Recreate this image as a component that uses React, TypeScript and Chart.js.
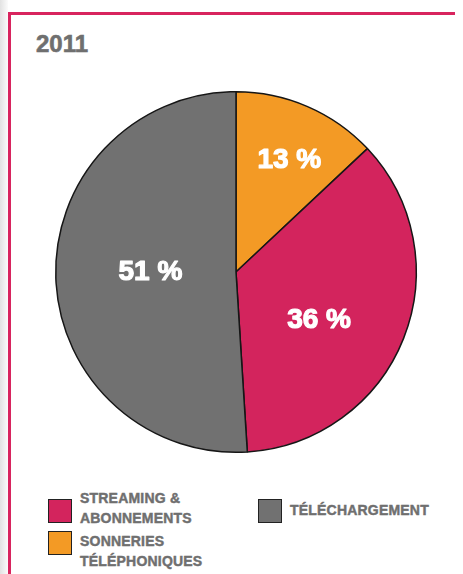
import React, { useEffect, useRef } from "react";
import { Chart, registerables } from "chart.js";

Chart.register(...registerables);

const categories = ["SONNERIES TÉLÉPHONIQUES", "STREAMING & ABONNEMENTS", "TÉLÉCHARGEMENT"];
const values = [13, 36, 51];
const valueLabels = ["13 %", "36 %", "51 %"];
const colors = ["#F39A25", "#D3245D", "#717171"];
const title = "2011";

const FONT = '"Liberation Sans", Arial, sans-serif';
const TEXT_GRAY = "#6f6f6f";
const PINK_FRAME = "#D8245E";

const labelPlugin = {
  id: "sliceLabels",
  afterDatasetsDraw(chart: any, _args: any, opts: any) {
    const ctx = chart.ctx;
    const meta = chart.getDatasetMeta(0);
    ctx.save();
    ctx.fillStyle = "#ffffff";
    ctx.strokeStyle = "#ffffff";
    ctx.lineWidth = 1.2;
    ctx.lineJoin = "round";
    ctx.font = `bold 28px ${FONT}`;
    ctx.textAlign = "center";
    ctx.textBaseline = "middle";
    meta.data.forEach((arc: any, i: number) => {
      const p = arc.getProps(["x", "y", "startAngle", "endAngle", "outerRadius"], true);
      const adj = (opts.adjust && opts.adjust[i]) || { r: 0.6, a: 0 };
      const mid = (p.startAngle + p.endAngle) / 2 + (adj.a * Math.PI) / 180;
      const r = p.outerRadius * adj.r;
      const x = p.x + Math.cos(mid) * r;
      const y = p.y + Math.sin(mid) * r + 1;
      ctx.strokeText(valueLabels[i], x, y);
      ctx.fillText(valueLabels[i], x, y);
    });
    ctx.restore();
  },
};

function PieChart() {
  const ref = useRef<HTMLCanvasElement | null>(null);
  useEffect(() => {
    if (!ref.current) return;
    const chart = new Chart(ref.current, {
      type: "pie",
      data: {
        labels: categories,
        datasets: [
          {
            data: values,
            backgroundColor: colors,
            borderColor: "#161616",
            borderWidth: 1.5,
          },
        ],
      },
      options: {
        responsive: false,
        animation: false,
        events: [],
        layout: { padding: 9 },
        plugins: {
          legend: { display: false },
          tooltip: { enabled: false },
          title: { display: false },
          sliceLabels: {
            adjust: [
              { r: 0.69, a: 2 },
              { r: 0.53, a: 8 },
              { r: 0.475, a: 2.5 },
            ],
          },
        } as any,
      },
      plugins: [labelPlugin],
    });
    return () => chart.destroy();
  }, []);
  return (
    <canvas
      ref={ref}
      width={380}
      height={380}
      style={{ position: "absolute", left: 38, top: 74, width: 380, height: 380 }}
    />
  );
}

function LegendItem(props: { color: string; lines: string[]; left: number; top: number; boxTop: number }) {
  const { color, lines, left, top, boxTop } = props;
  return (
    <>
      <div
        style={{
          position: "absolute",
          left: left,
          top: boxTop,
          width: 22,
          height: 22,
          background: color,
          border: "1.5px solid #222",
        }}
      />
      <div
        style={{
          position: "absolute",
          left: left + 32,
          top: top,
          font: `bold 14px ${FONT}`,
          lineHeight: "20px",
          color: TEXT_GRAY,
          whiteSpace: "nowrap",
          letterSpacing: "0.2px",
          WebkitTextStroke: `0.45px ${TEXT_GRAY}`,
        }}
      >
        {lines.map((l, i) => (
          <div key={i}>{l}</div>
        ))}
      </div>
    </>
  );
}

export default function App() {
  return (
    <>
      <div
        style={{
          position: "fixed",
          left: 0,
          top: 0,
          width: 8,
          height: "100%",
          background: "linear-gradient(to right, #e2e2e2, #fbfbfb)",
        }}
      />
      <div style={{ position: "relative", width: 455, height: 566, overflow: "hidden" }}>
        <div
          style={{
            position: "absolute",
            left: 0,
            top: 4,
            width: 460,
            height: 580,
            borderLeft: `3px solid ${PINK_FRAME}`,
            borderTop: `3px solid ${PINK_FRAME}`,
            boxSizing: "border-box",
          }}
        />
        <div
          style={{
            position: "absolute",
            left: 28,
            top: 24,
            font: `bold 24px ${FONT}`,
            lineHeight: "24px",
            color: TEXT_GRAY,
            WebkitTextStroke: `0.6px ${TEXT_GRAY}`,
          }}
        >
          {title}
        </div>
        <PieChart />
        <LegendItem color={colors[1]} lines={["STREAMING &", "ABONNEMENTS"]} left={40} top={480} boxTop={491} />
        <LegendItem color={colors[0]} lines={["SONNERIES", "TÉLÉPHONIQUES"]} left={40} top={523} boxTop={523} />
        <LegendItem color={colors[2]} lines={["TÉLÉCHARGEMENT"]} left={250} top={492} boxTop={491} />
      </div>
    </>
  );
}
